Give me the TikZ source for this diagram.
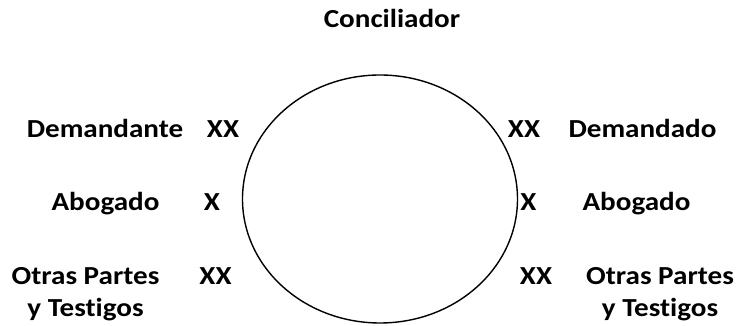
\documentclass[tikz,border=0pt]{standalone}
\usepackage{fontspec}
\setmainfont{Carlito}[FakeStretch=1.12,Ligatures={NoCommon}]
\begin{document}
\begin{tikzpicture}[x=1pt,y=1pt,
  lbl/.style={anchor=base, inner sep=0pt, font=\fontsize{26}{32}\selectfont\bfseries, align=center}]
\useasboundingbox (0,0) rectangle (742,326);
\draw[line width=1.4pt] (380,127) ellipse [x radius=137.5, y radius=124];
\node[lbl] (conc) at (392,298) {Conciliador};
\node[lbl] (deml) at (105,188) {Demandante};
\node[lbl] (xxl1) at (223,188) {XX};
\node[lbl] (abol) at (105.5,115) {Abogado};
\node[lbl] (xl) at (212,115) {X};
\node[lbl] (otrl) at (85.5,9) {Otras Partes\\y Testigos};
\node[lbl] (xxl2) at (215.5,41) {XX};
\node[lbl] (xxr1) at (524,188) {XX};
\node[lbl] (demr) at (642.5,188) {Demandado};
\node[lbl] (xr) at (528.5,115) {X};
\node[lbl] (abor) at (636.5,115) {Abogado};
\node[lbl] (xxr2) at (536,41) {XX};
\node[lbl] (otrr) at (660,9) {Otras Partes\\y Testigos};
\end{tikzpicture}
\end{document}
